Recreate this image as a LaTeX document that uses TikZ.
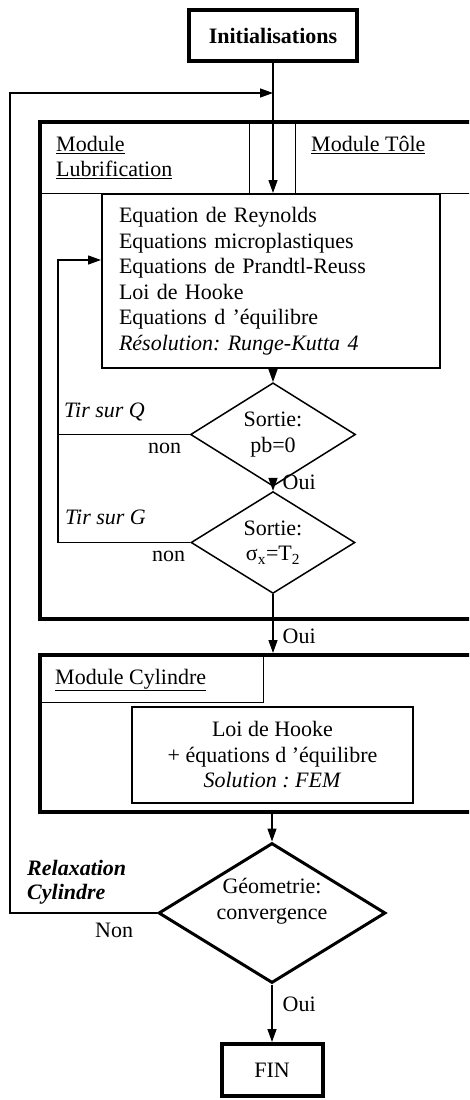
\documentclass[tikz,border=0pt]{standalone}
\usepackage{fontspec}
\setmainfont{Liberation Serif}
\usetikzlibrary{arrows.meta,shapes.geometric,calc}
\frenchspacing
\begin{document}
\begin{tikzpicture}[x=1pt,y=-1pt,
  font=\fontsize{22}{25.5}\selectfont,
  ln/.style={line width=1.3pt},
  arr/.style={ln,-{Triangle[length=13pt,width=9pt]}},
  thickbox/.style={draw,line width=3.5pt,inner sep=0pt},
  modbox/.style={draw,line width=3.5pt,inner sep=0pt,anchor=north west},
  headbox/.style={draw,ln,inner sep=0pt,anchor=north west},
  decision/.style={diamond,draw,line width=1.5pt,inner sep=0pt,align=center},
  lbl/.style={inner sep=0pt,anchor=base west},
  title/.style={inner sep=0pt,anchor=north west,align=left}
]
\useasboundingbox (0,0) rectangle (469,1100);
\clip (0,0) rectangle (469,1100);

% start
\node[thickbox,minimum width=168pt,minimum height=51pt,font=\fontsize{22}{25.5}\selectfont\bfseries] (init) at (273,35.5) {Initialisations};

% module Lubrification / Tole
\node[modbox,minimum width=480pt,minimum height=497pt] (mlub) at (38,120) {};
\node[headbox,minimum width=211pt,minimum height=73pt] (hlub) at (38,120) {};
\node[headbox,minimum width=230pt,minimum height=73pt] (htole) at (295,120) {};
\node[title] (tlub) at (56,136) {\underline{Module}\\\underline{Lubrification}};
\node[title] (ttole) at (311,136) {\underline{Module Tôle}};

\node[draw,line width=2pt,minimum width=338pt,minimum height=174pt,text width=304pt,inner xsep=17pt,inner ysep=0pt,align=left] (eqs) at (271,281)
 {Equation de Reynolds\\Equations microplastiques\\Equations de Prandtl-Reuss\\Loi de Hooke\\Equations d ’équilibre\\\textit{Résolution: Runge-Kutta 4}};

\node[decision,minimum width=165pt,minimum height=79pt] (d1) at (273,434.5) {Sortie:\\pb=0};
\node[decision,minimum width=164pt,minimum height=79pt] (d2) at (273,542.5) {Sortie:\\σ\textsubscript{x}=T\textsubscript{2}};

% module Cylindre
\node[modbox,minimum width=480pt,minimum height=157pt] (mcyl) at (38,653) {};
\node[headbox,minimum width=225pt,minimum height=49pt] (hcyl) at (38,653) {};
\node[title] (tcyl) at (55,669) {\underline{Module Cylindre}};
\node[draw,line width=1.5pt,minimum width=281pt,minimum height=96pt,inner sep=0pt,align=center] (hooke) at (272.5,755)
 {Loi de Hooke\\+ équations d ’équilibre\\\textit{Solution : FEM}};

% convergence
\node[decision,line width=3pt,minimum width=227pt,minimum height=140pt] (d3) at (272,913) {};
\node[inner sep=0pt,align=center] (d3t) at (272,901) {Géometrie:\\convergence};

\node[draw,line width=4pt,minimum width=101pt,minimum height=52pt,inner sep=0pt] (fin) at (272,1070) {FIN};

% coordinates
\coordinate (top) at (10,93);
\coordinate (lp) at (58,260);

% connectors
\draw[arr] (init.south) -- (init.south |- eqs.north);
\draw[arr] (d3.west) -| (top) -- (init.south |- top);
\draw[arr] (d1.north |- eqs.south) -- (d1.north);
\draw[arr] (d1.west) -| (lp) -- (eqs.west |- lp);
\draw[ln] (d2.west) -| (lp |- d1.west);
\draw[arr] (d1.south) -- node[lbl,pos=0.655,xshift=9pt] (oui1) {Oui} (d2.north);
\draw[arr] (d2.south) -- node[lbl,pos=0.83,xshift=9pt] (oui2) {Oui} (d2.south |- mcyl.north);
\draw[arr] (d3.north |- mcyl.south) -- (d3.north);
\draw[arr] (d3.south) -- node[lbl,pos=0.475,xshift=10pt] (oui3) {Oui} (fin.north);

% labels
\node[lbl] (tirq) at (64,417) {\textit{Tir sur Q}};
\node[lbl] (non1) at (148,453) {non};
\node[lbl] (tirg) at (65,524) {\textit{Tir sur G}};
\node[lbl] (non2) at (152,561) {non};
\node[lbl,font=\fontsize{22}{24}\selectfont\bfseries\itshape] (relax) at (27,875) {Relaxation};
\node[lbl,font=\fontsize{22}{24}\selectfont\bfseries\itshape] (cyl) at (27,899) {Cylindre};
\node[lbl] (non3) at (95,937) {Non};
\end{tikzpicture}
\end{document}
